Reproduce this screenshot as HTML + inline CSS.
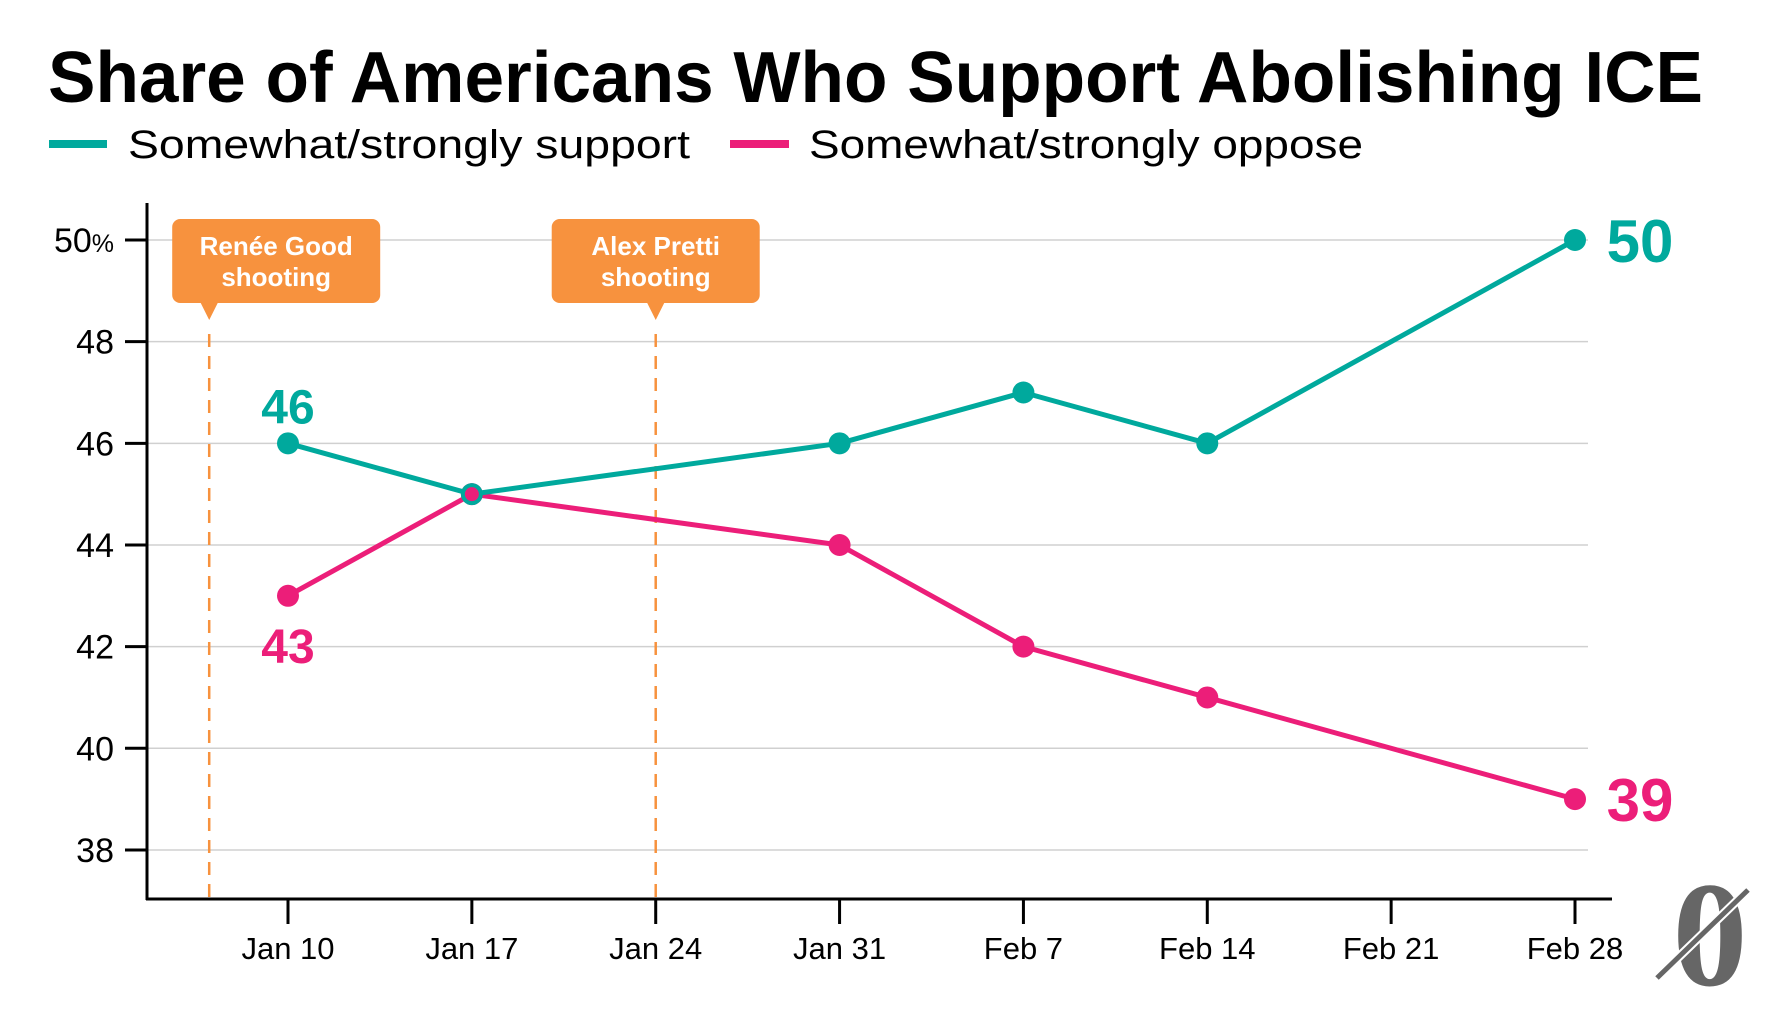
<!DOCTYPE html>
<html><head><meta charset="utf-8"><style>
html,body{margin:0;padding:0;background:#fff;}
svg{display:block;font-family:"Liberation Sans",sans-serif;}
</style></head><body>
<svg id="chart" width="1785" height="1017" viewBox="0 0 1785 1017">
<text x="48" y="102" font-size="72" font-weight="bold" textLength="1655" lengthAdjust="spacingAndGlyphs">Share of Americans Who Support Abolishing ICE</text>
<g>
<g>
<rect x="49" y="140" width="58" height="8" fill="#00a99d"/>
<text x="128" y="158" font-size="40" textLength="562" lengthAdjust="spacingAndGlyphs">Somewhat/strongly support</text></g>
<g>
<rect x="730" y="140" width="59" height="8" fill="#ec1e79"/>
<text x="809" y="158" font-size="40" textLength="554" lengthAdjust="spacingAndGlyphs">Somewhat/strongly oppose</text></g>
</g>
<g id="grid"></g><g id="yaxis"></g><g id="xaxis"></g><g id="events"></g><g id="series"></g>
<g>
<text x="1710" y="985" font-family="Liberation Serif,serif" font-weight="bold" font-size="150" fill="#666" text-anchor="middle" transform="translate(0,0) scale(1,1)">0</text>
<line x1="1657" y1="978" x2="1748" y2="890" stroke="#fff" stroke-width="9"/>
<line x1="1657" y1="978" x2="1748" y2="890" stroke="#666" stroke-width="5"/>
</g>
</svg>
<script>
const dates=[10,17,31,38,45,59]; // day offsets from Jan 0
const support=[46,45,46,47,46,50];
const oppose=[43,45,44,42,41,39];
const xTickDays=[10,17,24,31,38,45,52,59];
const xTickLabels=["Jan 10","Jan 17","Jan 24","Jan 31","Feb 7","Feb 14","Feb 21","Feb 28"];
const yTicks=[38,40,42,44,46,48,50];
const eventDays=[7,24];
const eventLabels=[["Renée Good","shooting"],["Alex Pretti","shooting"]];
const NS="http://www.w3.org/2000/svg";
const x=d=>288+(d-10)*(1287/49);
const y=v=>240+(50-v)*50.83;
function mk(tag,attrs,parent,txt){const e=document.createElementNS(NS,tag);for(const k in attrs)e.setAttribute(k,attrs[k]);if(txt!==undefined)e.textContent=txt;parent.appendChild(e);return e;}
const G=id=>document.getElementById(id);
yTicks.forEach(v=>{
 const l=mk('line',{x1:147,x2:1588,y1:y(v),y2:y(v),stroke:'#d0d0d0','stroke-width':1.5},G('grid'));
 
 
 mk('line',{x1:125,x2:147,y1:y(v),y2:y(v),stroke:'#000','stroke-width':3},G('yaxis'));
 const t=mk('text',{x:114,y:y(v)+12,'font-size':34,'text-anchor':'end'},G('yaxis'),v);
 if(v===50){t.textContent='50';mk('tspan',{'font-size':25},t,'%');}
 
 
});
mk('line',{x1:147,x2:147,y1:203,y2:900,stroke:'#000','stroke-width':3},G('yaxis'));
mk('line',{x1:146,x2:1612,y1:899,y2:899,stroke:'#000','stroke-width':3},G('xaxis'));
xTickDays.forEach((d,i)=>{
 mk('line',{x1:x(d),x2:x(d),y1:899,y2:924,stroke:'#000','stroke-width':3},G('xaxis'));
 const t=mk('text',{x:x(d),y:959,'font-size':31,'text-anchor':'middle'},G('xaxis'),xTickLabels[i]);
 
 
});
const boxOffsets=[-37,-104];
eventDays.forEach((d,i)=>{
 const g=mk('g',{},G('events'));
 
 
 const cx=x(d);
 mk('line',{x1:cx,x2:cx,y1:334,y2:899,stroke:'#f7923e','stroke-width':2.5,'stroke-dasharray':'13 9'},g);
 const bx=cx+boxOffsets[i];
 mk('rect',{x:bx,y:219,width:208,height:84,rx:8,fill:'#f7923e'},g);
 mk('path',{d:`M${cx-9} 302 L${cx+9} 302 L${cx} 320 Z`,fill:'#f7923e'},g);
 mk('text',{x:bx+104,y:255,'font-size':26,'font-weight':'bold',fill:'#fff','text-anchor':'middle'},g,eventLabels[i][0]);
 mk('text',{x:bx+104,y:286,'font-size':26,'font-weight':'bold',fill:'#fff','text-anchor':'middle'},g,eventLabels[i][1]);
});
function series(vals,color,name){
 const g=mk('g',{},G('series'));
 
 
 const p=mk('polyline',{points:vals.map((v,i)=>x(dates[i])+','+y(v)).join(' '),fill:'none',stroke:color,'stroke-width':5,'stroke-linejoin':'round'},g);
 
 
 vals.forEach((v,i)=>{
  const c=mk('circle',{cx:x(dates[i]),cy:y(v),r:11,fill:color},g);
  
  
 });
}
series(oppose,'#ec1e79','oppose');
series(support,'#00a99d','support');
mk('circle',{cx:x(dates[1]),cy:y(oppose[1]),r:7,fill:'#ec1e79'},G('series'));
const lab=(txt,xx,yy,color,size,name)=>{const t=mk('text',{x:xx,y:yy,'font-size':size,'font-weight':'bold',fill:color,'text-anchor':'middle'},G('series'),txt);
 
 };
lab(support[0],x(dates[0]),y(support[0])-20,'#00a99d',48,'support-first-label');
lab(oppose[0],x(dates[0]),y(oppose[0])+67,'#ec1e79',48,'oppose-first-label');
lab(support[5],x(dates[5])+65,y(support[5])+22,'#00a99d',60,'support-last-label');
lab(oppose[5],x(dates[5])+65,y(oppose[5])+22,'#ec1e79',60,'oppose-last-label');
</script>
</body></html>
